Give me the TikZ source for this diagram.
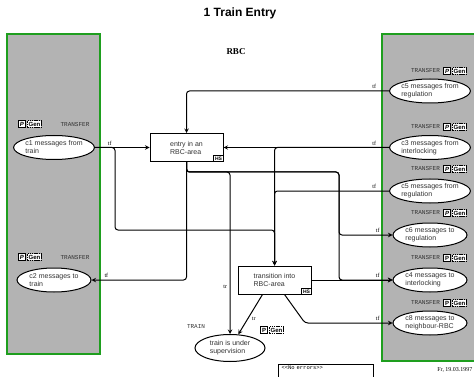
\documentclass[tikz,border=0pt]{standalone}
\usepackage{fontspec}
\setmainfont{Liberation Serif}
\setsansfont{Liberation Sans}
\setmonofont{Liberation Mono}
\usepackage{tikz}
\usetikzlibrary{shapes.geometric,arrows}
\usetikzlibrary{positioning}
\definecolor{panelgray}{HTML}{B3B3B3}
\definecolor{panelgreen}{HTML}{1E9E1E}
\tikzset{node distance=1.5pt,
  place/.style={ellipse, draw, line width=1pt, fill=white, minimum width=74pt,
    minimum height=24pt, inner sep=0pt, align=left, text=black!80,
    font=\sffamily\fontsize{7}{8}\selectfont},
  trans/.style={rectangle, draw, sharp corners, line width=1pt, fill=white, minimum width=73pt,
    minimum height=28pt, align=left, text=black!80,
    font=\sffamily\fontsize{7}{8}\selectfont},
  tagbox/.style={draw, sharp corners, line width=0.7pt, fill=white, inner xsep=1.2pt,
    inner ysep=1pt, text height=4.5pt, text depth=0pt,
    font=\sffamily\bfseries\fontsize{6}{6}\selectfont},
  gentag/.style={tagbox, dash pattern=on 1.5pt off 0.7pt},
  kind/.style={font=\ttfamily\fontsize{6}{6}\selectfont, text=black!80, inner sep=0pt},
  lbl/.style={font=\fontsize{6}{6}\selectfont, inner sep=0.5pt},
  panel/.style={draw=panelgreen, sharp corners, line width=1.6pt, fill=panelgray}}

\begin{document}
\begin{tikzpicture}[x=1pt, y=-1pt, line width=1pt, rounded corners=3pt]
      \useasboundingbox (0,0) rectangle (474,377);
      \draw[panel] (7,34) rectangle (100,354);
      \draw[panel] (382,34) rectangle (480,361);
      \node[font=\sffamily\bfseries\fontsize{12}{12}\selectfont] (title) at (240,13) {1 Train Entry};
      \node[font=\bfseries\fontsize{9}{9}\selectfont] (rbc) at (236,52) {RBC};
      %
      \node[place] (c1) at (54,147.5) {c1 messages from\\train};
      \node[place] (c2) at (54,280)   {c2 messages to\\train};
      \node[tagbox] (c1p) at (22,124) {\itshape P};
      \node[gentag] (c1g) [right=of c1p] {Gen};
      \node[kind]   (c1k) at (75,125) {TRANSFER};
      \node[tagbox] (c2p) at (22,257) {\itshape P};
      \node[gentag] (c2g) [right=of c2p] {Gen};
      \node[kind]   (c2k) at (75,258) {TRANSFER};
      %
      \node[trans] (E) at (186.5,147.5) {entry in an\\RBC-area};
      \node[trans] (T) at (274.5,280)   {transition into\\RBC-area};
      \node[tagbox, anchor=south east, font=\sffamily\bfseries\fontsize{5}{5}\selectfont, text height=3.8pt] (Ehs) at (E.south east) {HS};
      \node[tagbox, anchor=south east, font=\sffamily\bfseries\fontsize{5}{5}\selectfont, text height=3.8pt] (Ths) at (T.south east) {HS};
      \node[place, minimum width=70pt, minimum height=27pt] (S) at (230,348) {train is under\\supervision};
      \node[kind]   (Sk) at (196,327) {TRAIN};
      \node[tagbox] (Sp) at (264,330) {P};
      \node[gentag] (Sg) [right=of Sp] {Gen};
      %
      \node[place] (r1) at (430,91)    {c5 messages from\\regulation};
      \node[place] (r2) at (430,147.5) {c3 messages from\\interlocking};
      \node[place] (r3) at (430,191)   {c5 messages from\\regulation};
      \node[place] (r4) at (430,235)   {c6 messages to\\regulation};
      \node[place] (r5) at (430,280)   {c4 messages to\\interlocking};
      \node[place] (r6) at (430,323)   {c8 messages to\\neighbour-RBC};
      \node[tagbox] (r1p) at (447,71)  {\itshape P};
      \node[gentag] (r1g) [right=of r1p] {Gen};
      \node[kind]   (r1k) [left=3pt of r1p] {TRANSFER};
      \node[tagbox] (r2p) at (447,127) {\itshape P};
      \node[gentag] (r2g) [right=of r2p] {Gen};
      \node[kind]   (r2k) [left=3pt of r2p] {TRANSFER};
      \node[tagbox] (r3p) at (447,169) {\itshape P};
      \node[gentag] (r3g) [right=of r3p] {Gen};
      \node[kind]   (r3k) [left=3pt of r3p] {TRANSFER};
      \node[tagbox] (r4p) at (447,213) {\itshape P};
      \node[gentag] (r4g) [right=of r4p] {Gen};
      \node[kind]   (r4k) [left=3pt of r4p] {TRANSFER};
      \node[tagbox] (r5p) at (447,258) {P};
      \node[gentag] (r5g) [right=of r5p] {Gen};
      \node[kind]   (r5k) [left=3pt of r5p] {TRANSFER};
      \node[tagbox] (r6p) at (447,303) {P};
      \node[gentag] (r6g) [right=of r6p] {Gen};
      \node[kind]   (r6k) [left=3pt of r6p] {TRANSFER};
      %
      \draw[-stealth] (c1.east) node[lbl, above right=1pt and 12pt] {tf} -- (E.west);
      \draw[-stealth] (c1.east) -- (115,147.5) -- (115,230) -| (T.north);
      \draw[-stealth] (r1.west) node[lbl, above left=1pt and 12pt] {tf} -| (E.north);
      \draw[-stealth] (r2.west) node[lbl, above left=1pt and 12pt] {tf} -- (E.east);
      \draw[-stealth] (r2.west) -| (T.north);
      \draw[-stealth] (r3.west) node[lbl, above left=1pt and 12pt] {tf} -| (T.north);
      \draw[-stealth] (E.south) |- (c2.east) node[lbl, above right=1pt and 12pt] {tf};
      \draw[-stealth] (E.south) -- ++(0,10) -| (S.north) node[lbl, pos=0.855, left=2pt] {tr};
      \draw[-stealth] (E.south) -- ++(0,10) -| (339,235) -- (r4.west) node[lbl, above left=1pt and 12pt] {tf};
      \draw[-stealth] (E.south) -- ++(0,10) -| (339,280) -- (r5.west);
      \draw[-stealth] (T.east) -- (r5.west) node[lbl, above left=1pt and 12pt] {tf};
      \draw[-stealth] ([xshift=-12pt]T.south) -- (S) node[lbl, pos=0.6, right=3pt] {tr};
      \draw[-stealth] ([xshift=10pt]T.south) -- (305,323) -- (r6.west) node[lbl, above left=1pt and 12pt] {tf};
      %
      \node[draw, line width=0.5pt, sharp corners, anchor=north west, text width=88pt, align=left,
        text depth=8pt, inner ysep=2pt, font=\ttfamily\fontsize{5.5}{6}\selectfont] (err) at (278,364) {<<No errors>>};
      \node[font=\fontsize{6}{6}\selectfont, anchor=east, inner sep=0pt] (date) at (473,370) {Fr, 19.03.1997};
\end{tikzpicture}
\end{document}
